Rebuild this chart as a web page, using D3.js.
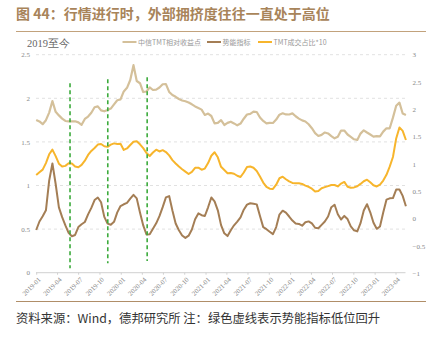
<!DOCTYPE html>
<html>
<head>
<meta charset="utf-8">
<script src="https://cdn.jsdelivr.net/npm/d3@7"></script>
<style>
  html, body { margin: 0; padding: 0; background: #fff; }
  svg { display: block; }
</style>
</head>
<body>
<svg id="chart" width="431" height="343"></svg>
<script>
// Fortnightly sampling grid starting 2019-01-01
const startDate = "2019-01-01";
const stepDays = 14;

// 中信TMT相对收益点 (left axis)
const tmtRelative = [
  1.751, 1.735, 1.703, 1.749, 1.836, 1.969, 1.845, 1.804, 1.767, 1.740,
  1.736, 1.736, 1.736, 1.724, 1.696, 1.763, 1.791, 1.834, 1.897, 1.908,
  1.861, 1.851, 1.866, 1.882, 1.931, 1.978, 1.987, 2.079, 2.120, 2.210,
  2.380, 2.198, 2.173, 2.072, 2.078, 2.125, 2.095, 2.100, 2.124, 2.161,
  2.162, 2.073, 2.037, 2.017, 1.992, 1.975, 1.966, 1.952, 1.931, 1.907,
  1.889, 1.870, 1.809, 1.825, 1.797, 1.712, 1.718, 1.750, 1.694, 1.718,
  1.732, 1.712, 1.690, 1.710, 1.766, 1.814, 1.822, 1.847, 1.843, 1.780,
  1.740, 1.713, 1.718, 1.717, 1.756, 1.812, 1.828, 1.815, 1.814, 1.827,
  1.794, 1.767, 1.747, 1.734, 1.702, 1.657, 1.601, 1.568, 1.581, 1.608,
  1.597, 1.567, 1.541, 1.558, 1.630, 1.630, 1.585, 1.558, 1.530, 1.523,
  1.595, 1.633, 1.608, 1.585, 1.561, 1.567, 1.564, 1.618, 1.656, 1.656,
  1.778, 1.914, 1.950, 1.826, 1.809
];

// 势能指标 (right axis)
const momentum = [
  -0.208, -0.052, 0.043, 0.153, 0.696, 1.010, 0.634, 0.206, 0.027, -0.124,
  -0.261, -0.323, -0.299, -0.155, -0.103, -0.061, 0.078, 0.197, 0.341, 0.387,
  0.299, 0.032, -0.091, -0.111, -0.058, 0.114, 0.231, 0.263, 0.288, 0.365,
  0.435, 0.371, 0.114, -0.124, -0.290, -0.285, -0.184, -0.085, 0.045, 0.210,
  0.389, 0.413, 0.149, -0.089, -0.213, -0.308, -0.352, -0.312, -0.199, -0.012,
  0.096, 0.063, 0.048, 0.208, 0.387, 0.317, 0.153, -0.118, -0.268, -0.319,
  -0.211, -0.122, -0.054, 0.023, 0.164, 0.257, 0.281, 0.272, 0.261, 0.050,
  -0.155, -0.193, -0.239, -0.283, -0.155, 0.074, 0.145, 0.109, 0.039, -0.036,
  -0.089, -0.096, -0.129, -0.067, -0.050, -0.087, -0.167, -0.175, -0.113, -0.052,
  0.039, 0.210, 0.255, 0.081, -0.016, 0.050, -0.008, -0.140, -0.213, -0.233,
  -0.083, 0.149, 0.264, 0.116, -0.076, -0.186, -0.144, 0.113, 0.347, 0.372,
  0.376, 0.533, 0.532, 0.416, 0.228
];

// TMT成交占比*10 (left axis)
const turnoverShare = [
  1.120, 1.151, 1.182, 1.257, 1.358, 1.411, 1.337, 1.250, 1.217, 1.225,
  1.255, 1.252, 1.217, 1.209, 1.236, 1.284, 1.351, 1.397, 1.430, 1.469,
  1.476, 1.450, 1.443, 1.468, 1.483, 1.477, 1.478, 1.408, 1.425, 1.464,
  1.502, 1.508, 1.472, 1.428, 1.373, 1.338, 1.378, 1.411, 1.390, 1.405,
  1.384, 1.346, 1.291, 1.253, 1.217, 1.186, 1.159, 1.132, 1.157, 1.203,
  1.204, 1.181, 1.194, 1.257, 1.341, 1.381, 1.323, 1.214, 1.178, 1.141,
  1.144, 1.135, 1.112, 1.097, 1.149, 1.212, 1.218, 1.204, 1.167, 1.103,
  1.034, 0.985, 0.963, 0.961, 1.009, 1.083, 1.101, 1.072, 1.047, 1.030,
  1.025, 1.025, 1.018, 0.999, 0.985, 0.963, 0.930, 0.937, 0.969, 0.981,
  0.993, 1.005, 1.006, 0.989, 1.022, 1.041, 0.986, 0.975, 0.978, 0.991,
  1.018, 1.049, 1.067, 1.037, 1.003, 0.989, 1.010, 1.057, 1.123, 1.216,
  1.327, 1.540, 1.666, 1.626, 1.522
];

// Dates where the momentum indicator turns up from a low, with the span of each marker (left-axis units)
const lowTurnDates = ["2019-05-27", "2019-11-06", "2020-04-24"];
const lowTurnTop = [2.172, 2.218, 2.241];
const lowTurnBottom = [0.05, 0.108, 0.134];

const xTickLabels = [
  "2019-01", "2019-04", "2019-07", "2019-10", "2020-01", "2020-04",
  "2020-07", "2020-10", "2021-01", "2021-04", "2021-07", "2021-10",
  "2022-01", "2022-04", "2022-07", "2022-10", "2023-01", "2023-04"
];
const leftTicks = [0, 0.5, 1, 1.5, 2, 2.5];
const rightTicks = [-1, -0.5, 0, 0.5, 1, 1.5, 2, 2.5, 3];

const seriesNames = ["中信TMT相对收益点", "势能指标", "TMT成交占比*10"];
const seriesColors = ["#d4c09a", "#a47e55", "#f7b52c"];

const titleText = "图 44：行情进行时，外部拥挤度往往一直处于高位";
const subTitle = "2019至今";
const sourceText = "资料来源：Wind，德邦研究所 注：绿色虚线表示势能指标低位回升";

// ---------------------------------------------------------------
const parse = d3.timeParse("%Y-%m-%d");
const parseMonth = d3.timeParse("%Y-%m");
const t0 = parse(startDate);
const dates = d3.range(tmtRelative.length).map(i => d3.timeDay.offset(t0, i * stepDays));

const svg = d3.select("#chart");
const serif = "'Liberation Serif', 'DejaVu Serif', serif";
const cjk = "'Noto Sans CJK SC', 'Noto Sans', sans-serif";

const plot = { left: 36, right: 405.5, top: 54.7, bottom: 272.7 };

const x = d3.scaleTime()
  .domain([parseMonth("2019-01"), parseMonth("2023-04")])
  .range([36.2, 395.5]);
const yL = d3.scaleLinear().domain([0, 2.5]).range([plot.bottom, plot.top]);
const yR = d3.scaleLinear().domain([-1, 3]).range([273.3, plot.top]);

// Title and rules
svg.append("text")
  .attr("x", 16).attr("y", 18.5)
  .attr("font-family", cjk).attr("font-weight", "bold")
  .attr("font-size", 14).attr("fill", "#a8845a")
  .text(titleText);
svg.append("line")
  .attr("x1", 16).attr("x2", 426).attr("y1", 31.5).attr("y2", 31.5)
  .attr("stroke", "#c2a27c").attr("stroke-width", 1);
svg.append("line")
  .attr("x1", 16).attr("x2", 426).attr("y1", 301.5).attr("y2", 301.5)
  .attr("stroke", "#b08e68").attr("stroke-width", 1.2);

svg.append("text")
  .attr("x", 16).attr("y", 323)
  .attr("font-family", cjk).attr("font-size", 12.3).attr("fill", "#333")
  .text(sourceText);

svg.append("text")
  .attr("x", 27).attr("y", 46.5)
  .attr("font-family", serif).attr("font-size", 10.5).attr("fill", "#666")
  .text(subTitle);

// Legend
const legendX = [122.5, 207, 258];
seriesNames.forEach((name, i) => {
  const g = svg.append("g").attr("transform", `translate(${legendX[i]},42)`);
  g.append("line").attr("x1", 0).attr("x2", 14).attr("y1", 0).attr("y2", 0)
    .attr("stroke", seriesColors[i]).attr("stroke-width", 2);
  g.append("text").attr("x", 15.5).attr("y", 2.5)
    .attr("font-family", cjk).attr("font-size", 7).attr("fill", "#999")
    .text(name);
});

// Gridlines (left axis)
svg.append("g").selectAll("line")
  .data(leftTicks.filter(d => d > 0))
  .join("line")
  .attr("x1", plot.left).attr("x2", plot.right)
  .attr("y1", d => yL(d)).attr("y2", d => yL(d))
  .attr("stroke", "#d9d9d9").attr("stroke-width", 0.8)
  .attr("stroke-dasharray", "3,3");

// x axis
const xAxis = d3.axisBottom(x)
  .tickValues(xTickLabels.map(parseMonth))
  .tickFormat(d3.timeFormat("%Y-%m"))
  .tickSize(2).tickSizeOuter(0);
const gx = svg.append("g").attr("transform", `translate(0,${plot.bottom})`).call(xAxis);
gx.select(".domain").attr("d", `M${plot.left},0H${plot.right}`).attr("stroke", "#d0d0d0");
gx.selectAll(".tick line").attr("stroke", "#d0d0d0");
gx.selectAll(".tick text")
  .attr("font-family", serif).attr("font-size", 6.8).attr("fill", "#888")
  .attr("text-anchor", "end")
  .attr("transform", "translate(0,1) rotate(-45)")
  .attr("dx", "-0.2em").attr("dy", "0.4em");

// Left axis labels
const gl = svg.append("g").attr("transform", `translate(${plot.left},0)`)
  .call(d3.axisLeft(yL).tickValues(leftTicks).tickFormat(d3.format("~g")).tickSize(0).tickPadding(6));
gl.select(".domain").remove();
gl.selectAll("text").attr("font-family", serif).attr("font-size", 7).attr("fill", "#888");

// Right axis labels
const gr = svg.append("g").attr("transform", `translate(${plot.right + 3},0)`)
  .call(d3.axisRight(yR).tickValues(rightTicks).tickFormat(d3.format("~g")).tickSize(0).tickPadding(4));
gr.select(".domain").remove();
gr.selectAll("text").attr("font-family", serif).attr("font-size", 7).attr("fill", "#888");

// Series lines
const lineL = vals => d3.line().x((d, i) => x(dates[i])).y(d => yL(d)).curve(d3.curveLinear)(vals);
const lineR = vals => d3.line().x((d, i) => x(dates[i])).y(d => yR(d)).curve(d3.curveLinear)(vals);

svg.append("path").attr("d", lineL(tmtRelative))
  .attr("fill", "none").attr("stroke", seriesColors[0]).attr("stroke-width", 2.2)
  .attr("stroke-linejoin", "round");
svg.append("path").attr("d", lineL(turnoverShare))
  .attr("fill", "none").attr("stroke", seriesColors[2]).attr("stroke-width", 2)
  .attr("stroke-linejoin", "round");
svg.append("path").attr("d", lineR(momentum))
  .attr("fill", "none").attr("stroke", seriesColors[1]).attr("stroke-width", 2)
  .attr("stroke-linejoin", "round");

// Green dashed markers
svg.append("g").selectAll("line")
  .data(lowTurnDates)
  .join("line")
  .attr("x1", d => x(parse(d))).attr("x2", d => x(parse(d)))
  .attr("y1", (d, i) => yL(lowTurnTop[i])).attr("y2", (d, i) => yL(lowTurnBottom[i]))
  .attr("stroke", "#3cab3c").attr("stroke-width", 1.6)
  .attr("stroke-dasharray", "4,3");
</script>
</body>
</html>
